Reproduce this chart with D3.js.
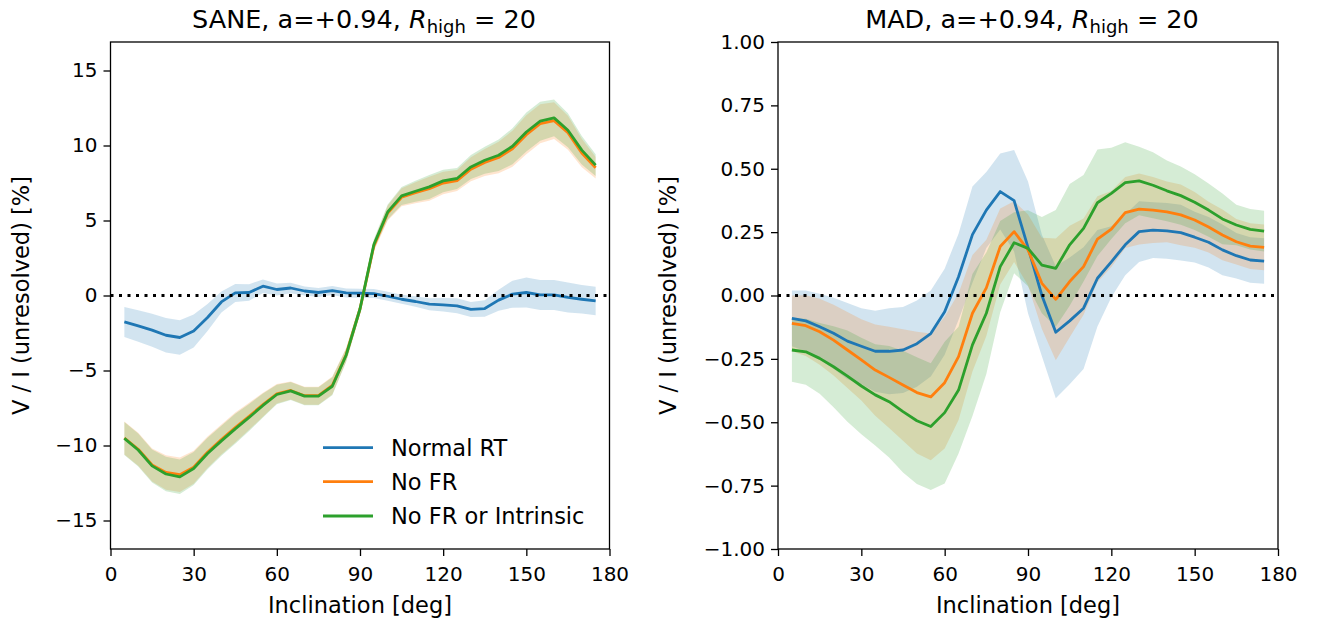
<!DOCTYPE html>
<html>
<head>
<meta charset="utf-8">
<script src="https://cdn.jsdelivr.net/npm/d3@7"></script>
<style>
  body { margin: 0; background: #fff; }
  svg { font-family: "DejaVu Sans", sans-serif; }
</style>
</head>
<body>
<svg width="1327" height="624"></svg>
<script>
const svg = d3.select("svg");

// inclinaciones (grados)
const inclination = [5,10,15,20,25,30,35,40,45,50,55,60,65,70,75,80,85,90,95,100,105,110,115,120,125,130,135,140,145,150,155,160,165,170,175];
const xTicks = [0,30,60,90,120,150,180];
const seriesNames = ["Normal RT", "No FR", "No FR or Intrinsic"];
const colors = ["#1f77b4", "#ff7f0e", "#2ca02c"];

// SANE
const saneNormal = [-1.76,-2.03,-2.31,-2.65,-2.8,-2.36,-1.47,-0.43,0.17,0.2,0.62,0.4,0.5,0.3,0.2,0.33,0.17,0.15,0.13,-0.05,-0.25,-0.4,-0.58,-0.62,-0.69,-0.93,-0.87,-0.31,0.09,0.2,0.04,0.04,-0.13,-0.25,-0.36];
const saneNoFR = [-9.5,-10.25,-11.3,-11.8,-11.95,-11.45,-10.45,-9.6,-8.8,-8.05,-7.28,-6.55,-6.33,-6.68,-6.68,-6.0,-3.95,-0.9,3.3,5.5,6.55,6.85,7.12,7.5,7.66,8.42,8.87,9.2,9.78,10.72,11.45,11.66,10.85,9.5,8.52];
const saneNoIntr = [-9.53,-10.3,-11.36,-11.9,-12.09,-11.53,-10.53,-9.69,-8.89,-8.13,-7.33,-6.6,-6.36,-6.71,-6.71,-6.05,-3.98,-0.9,3.4,5.57,6.64,6.95,7.24,7.64,7.8,8.57,9.02,9.35,9.95,10.9,11.62,11.84,11.02,9.69,8.69];
const saneNormalErr = [1.0,1.05,1.1,1.15,1.15,1.1,0.9,0.7,0.6,0.55,0.45,0.4,0.35,0.3,0.3,0.3,0.3,0.3,0.3,0.3,0.3,0.35,0.4,0.45,0.5,0.5,0.55,0.7,0.9,1.0,1.0,1.0,1.0,0.95,0.95];
const saneNoFRErr = [1.1,1.1,1.1,1.15,1.15,1.1,1.05,1.0,1.0,0.9,0.8,0.65,0.6,0.6,0.6,0.6,0.45,0.35,0.35,0.5,0.6,0.7,0.8,0.75,0.7,0.8,0.9,1.05,1.2,1.3,1.3,1.22,1.13,0.95,0.72];
const saneNoIntrErr = [1.1,1.1,1.1,1.15,1.15,1.1,1.05,1.0,1.0,0.9,0.8,0.65,0.6,0.6,0.6,0.6,0.45,0.35,0.35,0.5,0.6,0.7,0.8,0.75,0.7,0.8,0.9,1.05,1.2,1.3,1.3,1.22,1.13,0.95,0.72];
const saneYTicks = [-15,-10,-5,0,5,10,15];

// MAD
const madNormal = [-0.09,-0.1,-0.123,-0.149,-0.18,-0.2,-0.22,-0.22,-0.215,-0.19,-0.15,-0.064,0.074,0.24,0.337,0.41,0.374,0.19,0.0,-0.145,-0.1,-0.05,0.068,0.133,0.2,0.252,0.258,0.255,0.248,0.23,0.21,0.18,0.157,0.14,0.136];
const madNoFR = [-0.11,-0.119,-0.143,-0.176,-0.215,-0.254,-0.294,-0.323,-0.353,-0.383,-0.4,-0.344,-0.241,-0.07,0.03,0.193,0.252,0.18,0.048,-0.015,0.055,0.114,0.222,0.262,0.327,0.341,0.337,0.33,0.318,0.298,0.27,0.239,0.212,0.195,0.19];
const madNoIntr = [-0.215,-0.222,-0.248,-0.281,-0.318,-0.357,-0.392,-0.419,-0.458,-0.494,-0.517,-0.462,-0.373,-0.195,-0.07,0.114,0.208,0.186,0.12,0.107,0.2,0.265,0.366,0.403,0.445,0.452,0.435,0.413,0.394,0.368,0.337,0.302,0.278,0.261,0.254];
const madNormalErr = [0.11,0.12,0.13,0.14,0.15,0.15,0.16,0.17,0.17,0.17,0.17,0.17,0.17,0.19,0.15,0.15,0.2,0.26,0.24,0.26,0.25,0.24,0.19,0.14,0.12,0.12,0.11,0.11,0.11,0.1,0.1,0.1,0.09,0.09,0.09];
const madNoFRErr = [0.11,0.12,0.13,0.14,0.15,0.16,0.18,0.2,0.22,0.24,0.25,0.26,0.25,0.23,0.19,0.15,0.12,0.14,0.18,0.24,0.22,0.19,0.17,0.15,0.14,0.14,0.13,0.12,0.12,0.11,0.1,0.1,0.09,0.09,0.09];
const madNoIntrErr = [0.125,0.13,0.14,0.16,0.18,0.19,0.2,0.22,0.24,0.25,0.25,0.28,0.25,0.28,0.24,0.18,0.12,0.15,0.19,0.23,0.24,0.21,0.21,0.18,0.16,0.135,0.13,0.12,0.115,0.11,0.105,0.1,0.08,0.08,0.08];
const madYTicks = [-1,-0.75,-0.5,-0.25,0,0.25,0.5,0.75,1];

const plotTop = 42, plotBottom = 549;

const panels = [
  { name: "SANE", x0: 110.5, x1: 609.5, yDom: [-16.9, 16.9], yTicks: saneYTicks, fmt: d3.format("d"), ylabX: 29,
    vals: [saneNormal, saneNoFR, saneNoIntr], errs: [saneNormalErr, saneNoFRErr, saneNoIntrErr], legend: true },
  { name: "MAD", x0: 778, x1: 1278, yDom: [-1, 1], yTicks: madYTicks, fmt: d3.format(".2f"), ylabX: 676,
    vals: [madNormal, madNoFR, madNoIntr], errs: [madNormalErr, madNoFRErr, madNoIntrErr], legend: false }
];

panels.forEach(p => {
  const x = d3.scaleLinear().domain([0, 180]).range([p.x0, p.x1]);
  const y = d3.scaleLinear().domain(p.yDom).range([plotBottom, plotTop]);
  const g = svg.append("g");

  // bandas de error
  p.vals.forEach((vals, s) => {
    const area = d3.area()
      .x((d, i) => x(inclination[i]))
      .y0((d, i) => y(d - p.errs[s][i]))
      .y1((d, i) => y(d + p.errs[s][i]));
    g.append("path").attr("d", area(vals))
      .attr("fill", colors[s]).attr("fill-opacity", 0.2).attr("stroke", "none");
  });

  // lineas
  p.vals.forEach((vals, s) => {
    const line = d3.line().x((d, i) => x(inclination[i])).y(d => y(d));
    g.append("path").attr("d", line(vals))
      .attr("fill", "none").attr("stroke", colors[s]).attr("stroke-width", 2.8)
      .attr("stroke-linejoin", "round");
  });

  // linea punteada en cero
  g.append("line")
    .attr("x1", p.x0).attr("x2", p.x1).attr("y1", y(0)).attr("y2", y(0))
    .attr("stroke", "black").attr("stroke-width", 3).attr("stroke-dasharray", "3,5.5");

  // ejes
  const xAxis = g.append("g").attr("transform", `translate(0,${plotBottom})`)
    .call(d3.axisBottom(x).tickValues(xTicks).tickSize(7).tickPadding(11));
  const yAxis = g.append("g").attr("transform", `translate(${p.x0},0)`)
    .call(d3.axisLeft(y).tickValues(p.yTicks).tickSize(7).tickPadding(6).tickFormat(d => p.fmt(d).replace("-", "\u2212")));
  [xAxis, yAxis].forEach(a => {
    a.select(".domain").remove();
    a.selectAll("line").attr("stroke-width", 1.3);
    a.selectAll("text").attr("font-size", 20).attr("fill", "black").attr("font-family", "DejaVu Sans");
  });

  g.append("rect").attr("x", p.x0).attr("y", plotTop).attr("width", p.x1 - p.x0).attr("height", plotBottom - plotTop)
    .attr("fill", "none").attr("stroke", "black").attr("stroke-width", 1.3);

  // titulo
  const cx = (p.x0 + p.x1) / 2;
  const t = g.append("text").attr("x", cx + 4).attr("y", 28).attr("text-anchor", "middle").attr("font-size", 25.5);
  t.append("tspan").text(p.name + ", a=+0.94, ");
  t.append("tspan").attr("font-style", "italic").text("R");
  t.append("tspan").attr("font-size", 18).attr("dy", 5).text("high");
  t.append("tspan").attr("dy", -5).text(" = 20");

  g.append("text").attr("x", cx).attr("y", 613).attr("text-anchor", "middle").attr("font-size", 22.5)
    .text("Inclination [deg]");
  g.append("text").attr("transform", `translate(${p.ylabX},${(plotTop + plotBottom) / 2}) rotate(-90)`)
    .attr("text-anchor", "middle").attr("font-size", 22.5).text("V / I (unresolved) [%]");

  if (p.legend) {
    const ly = [447.7, 481.7, 516];
    seriesNames.forEach((n, s) => {
      g.append("line").attr("x1", 323).attr("x2", 373).attr("y1", ly[s]).attr("y2", ly[s])
        .attr("stroke", colors[s]).attr("stroke-width", 2.8);
      g.append("text").attr("x", 391).attr("y", ly[s]).attr("dy", "0.35em").attr("font-size", 22.5).text(n);
    });
  }
});
</script>
</body>
</html>
